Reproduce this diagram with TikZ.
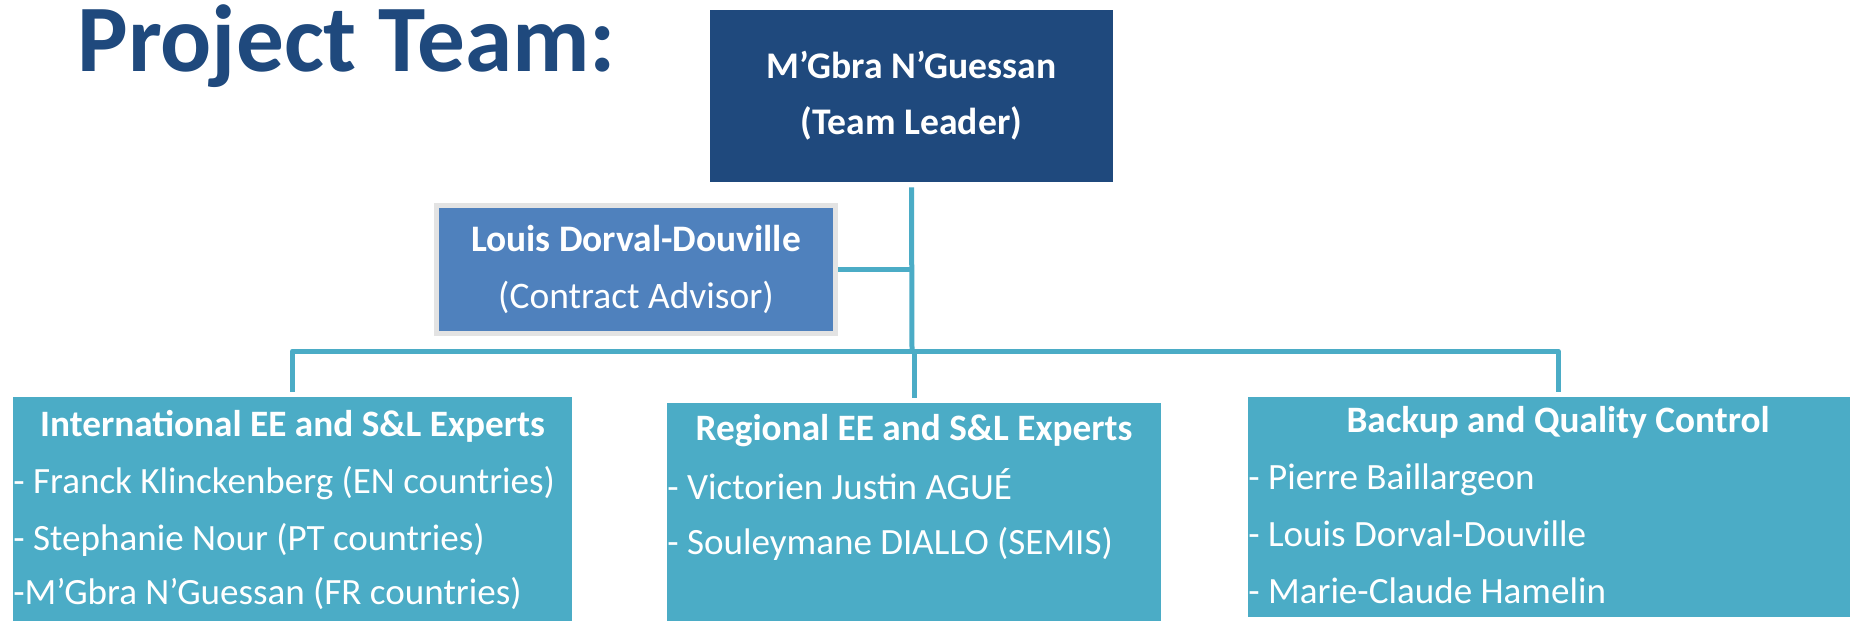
\documentclass[tikz,border=0pt]{standalone}
\usepackage{fontspec}
\setmainfont{Carlito}
\definecolor{leadblue}{HTML}{1F497D}
\definecolor{advblue}{HTML}{4F81BD}
\definecolor{teamteal}{HTML}{4BACC6}
\definecolor{framegray}{HTML}{E3E3E3}
\tikzset{
	link/.style={draw=teamteal,line width=1mm,line join=round},
	teambox/.style={fill=teamteal,inner sep=0pt},
	head/.style={anchor=base,inner sep=0pt,text=white,font=\fontsize{21.2}{24}\selectfont\bfseries},
	item/.style={anchor=base west,inner sep=0pt,text=white,font=\fontsize{21.1}{24}\selectfont},
}
\begin{document}
\begin{tikzpicture}[x=0.2mm,y=-0.2mm]
	\useasboundingbox[fill=white] (0,0) rectangle (1850,620);
	\node (title) at (77,71)[anchor=base west,inner sep=0pt,text=leadblue,font=\fontsize{54.2}{54}\selectfont\bfseries]{Project Team:};
	\node (lead) at (911.5,96)[fill=leadblue,minimum width=80.6mm,minimum height=34.4mm,align=center,text=white,font=\fontsize{21.4}{31.9}\selectfont\bfseries]{M’Gbra N’Guessan\\(Team Leader)};
	\node (adv) at (636,269.5)[fill=advblue,draw=framegray,line width=1mm,minimum width=79.8mm,minimum height=25.7mm,align=center,text=white,font=\fontsize{21.3}{32.4}\selectfont]{\textbf{Louis Dorval-Douville}\\(Contract Advisor)};
	\node (intl) at (292.5,518.5)[teambox,minimum width=111.8mm,minimum height=48.6mm]{};
	\node (reg) at (914,521.5)[teambox,minimum width=98.8mm,minimum height=47.4mm]{};
	\node (qc) at (1558,507)[teambox,minimum width=124mm,minimum height=44mm]{};
	\coordinate (bus) at (912,351);
	\draw[link] ([yshift=-1mm]lead.south) -- (bus);
	\draw[link] (adv.east) -- (adv.east -| bus);
	\draw[link] ([yshift=1mm]intl.north) |- (bus) -| ([yshift=1mm]qc.north);
	\draw[link] (reg.north |- bus) -- ([yshift=1mm]reg.north);
	\node (intl-h) at (292.5,436)[head]{International EE and S\&L Experts};
	\node (intl-a) at (13,493)[item]{- Franck Klinckenberg (EN countries)};
	\node (intl-b) at (13,550)[item]{- Stephanie Nour (PT countries)};
	\node (intl-c) at (13,604)[item]{-M’Gbra N’Guessan (FR countries)};
	\node (reg-h) at (914,440)[head]{Regional EE and S\&L Experts};
	\node (reg-a) at (667,499)[item]{- Victorien Justin AGUÉ};
	\node (reg-b) at (667,554)[item]{- Souleymane DIALLO (SEMIS)};
	\node (qc-h) at (1558,432)[head]{Backup and Quality Control};
	\node (qc-a) at (1248,489)[item]{- Pierre Baillargeon};
	\node (qc-b) at (1248,546)[item]{- Louis Dorval-Douville};
	\node (qc-c) at (1248,603)[item]{- Marie-Claude Hamelin};
\end{tikzpicture}
\end{document}
